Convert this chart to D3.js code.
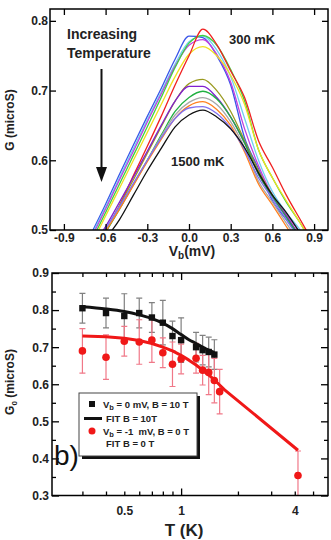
<!DOCTYPE html>
<html>
<head>
<meta charset="utf-8">
<script src="https://cdn.jsdelivr.net/npm/d3@7"></script>
<style>
body { margin: 0; background: #fff; }
text { font-family: "Liberation Sans", Arial, sans-serif; }
</style>
</head>
<body>
<div id="chart-area"></div>
<script>
// ---- top panel: G vs Vb, one curve per temperature ----
var vb = [-0.8, -0.7, -0.6, -0.5, -0.4, -0.3, -0.2, -0.1, 0, 0.1, 0.2, 0.3, 0.4, 0.5, 0.6, 0.7, 0.8, 0.9];
var gBlue    = [0.455, 0.496, 0.537, 0.580, 0.622, 0.663, 0.703, 0.745, 0.778, 0.776, 0.750, 0.708, 0.632, 0.588, 0.542, 0.515, 0.490, 0.460];
var gCyan    = [0.452, 0.493, 0.533, 0.575, 0.617, 0.658, 0.698, 0.738, 0.770, 0.778, 0.758, 0.720, 0.660, 0.600, 0.555, 0.525, 0.500, 0.470];
var gMagenta = [0.450, 0.490, 0.530, 0.572, 0.613, 0.655, 0.695, 0.735, 0.765, 0.773, 0.752, 0.712, 0.645, 0.592, 0.550, 0.522, 0.496, 0.465];
var gGreen   = [0.445, 0.485, 0.525, 0.566, 0.607, 0.648, 0.690, 0.733, 0.768, 0.779, 0.765, 0.730, 0.685, 0.615, 0.575, 0.540, 0.510, 0.475];
var gYellow  = [0.440, 0.480, 0.520, 0.560, 0.600, 0.640, 0.680, 0.720, 0.752, 0.763, 0.750, 0.722, 0.680, 0.615, 0.575, 0.542, 0.510, 0.478];
var gRed     = [0.430, 0.465, 0.497, 0.535, 0.578, 0.620, 0.663, 0.708, 0.750, 0.788, 0.766, 0.728, 0.690, 0.628, 0.590, 0.550, 0.515, 0.480];
var gOlive   = [0.440, 0.470, 0.500, 0.535, 0.572, 0.610, 0.648, 0.685, 0.710, 0.716, 0.700, 0.670, 0.628, 0.585, 0.550, 0.520, 0.490, 0.460];
var gPurple  = [0.445, 0.475, 0.505, 0.540, 0.576, 0.613, 0.650, 0.685, 0.706, 0.706, 0.690, 0.662, 0.625, 0.580, 0.548, 0.520, 0.490, 0.460];
var gGreen2  = [0.440, 0.468, 0.497, 0.530, 0.565, 0.600, 0.636, 0.670, 0.690, 0.699, 0.688, 0.662, 0.625, 0.580, 0.548, 0.518, 0.488, 0.458];
var gGray    = [0.440, 0.470, 0.500, 0.532, 0.566, 0.600, 0.634, 0.665, 0.683, 0.690, 0.680, 0.655, 0.618, 0.570, 0.540, 0.510, 0.480, 0.450];
var gOrange  = [0.438, 0.468, 0.498, 0.530, 0.564, 0.598, 0.630, 0.660, 0.678, 0.684, 0.673, 0.650, 0.612, 0.566, 0.536, 0.505, 0.475, 0.445];
var gViolet  = [0.442, 0.472, 0.502, 0.534, 0.567, 0.600, 0.632, 0.660, 0.675, 0.677, 0.667, 0.646, 0.615, 0.575, 0.545, 0.515, 0.485, 0.455];
var gBlack   = [0.430, 0.460, 0.487, 0.515, 0.550, 0.585, 0.617, 0.648, 0.665, 0.672, 0.662, 0.645, 0.618, 0.582, 0.550, 0.525, 0.495, 0.460];
var vbTicks = [-0.9, -0.6, -0.3, 0, 0.3, 0.6, 0.9];
var gTicks = [0.5, 0.6, 0.7, 0.8];

// ---- bottom panel: G0 vs T ----
var t10 = [0.3, 0.4, 0.5, 0.6, 0.7, 0.8, 0.9, 1.0, 1.2, 1.3, 1.4, 1.5];
var g10 = [0.805, 0.792, 0.784, 0.792, 0.780, 0.766, 0.730, 0.719, 0.700, 0.692, 0.687, 0.680];
var e10 = [0.04, 0.04, 0.06, 0.04, 0.04, 0.06, 0.04, 0.06, 0.04, 0.04, 0.04, 0.04];
var t0 = [0.3, 0.4, 0.5, 0.6, 0.7, 0.8, 0.9, 1.0, 1.2, 1.3, 1.4, 1.5, 1.6, 4.16];
var g0 = [0.690, 0.673, 0.716, 0.714, 0.719, 0.685, 0.654, 0.668, 0.670, 0.638, 0.632, 0.610, 0.580, 0.354];
var e0 = [0.06, 0.06, 0.04, 0.06, 0.06, 0.04, 0.06, 0.04, 0.04, 0.04, 0.06, 0.06, 0.06, 0.066];
var fitT10 = [0.3, 0.4, 0.5, 0.6, 0.7, 0.8, 0.9, 1.0, 1.1, 1.2, 1.3, 1.4, 1.5];
var fitG10 = [0.809, 0.803, 0.796, 0.787, 0.777, 0.765, 0.750, 0.734, 0.720, 0.710, 0.700, 0.692, 0.686];
var fitT0 = [0.3, 0.4, 0.5, 0.6, 0.7, 0.8, 0.9, 1.0, 1.1, 1.2, 1.3, 1.4, 1.5, 1.6, 1.7, 4.16];
var fitG0 = [0.730, 0.728, 0.724, 0.718, 0.710, 0.700, 0.690, 0.678, 0.665, 0.652, 0.638, 0.625, 0.612, 0.598, 0.585, 0.422];
var tLabels = [0.5, 1, 4];
var tMinor = [0.3, 0.4, 0.5, 0.6, 0.7, 0.8, 0.9, 2, 3, 4, 5];
var g0Major = [0.3, 0.4, 0.5, 0.6, 0.7, 0.8, 0.9];
var g0Minor = [0.35, 0.45, 0.55, 0.65, 0.75, 0.85];

var curves = [
    { g: gBlue, color: "#3a55e8" }, { g: gCyan, color: "#6fd0f0" },
    { g: gMagenta, color: "#c040e0" }, { g: gGreen, color: "#40d040" },
    { g: gYellow, color: "#f0e020" }, { g: gRed, color: "#f02020" },
    { g: gOlive, color: "#9a9a20" }, { g: gPurple, color: "#8020d0" },
    { g: gGreen2, color: "#20b040" }, { g: gGray, color: "#a8a8a8" },
    { g: gOrange, color: "#ff8020" }, { g: gViolet, color: "#8070f0" },
    { g: gBlack, color: "#111111" }
];

var svg = d3.select("#chart-area").append("svg")
    .attr("width", 331)
    .attr("height", 540);

function styleAxis(g, size) {
    g.select(".domain").remove();
    g.selectAll("line").attr("stroke", "#000").attr("stroke-width", 1.3);
    g.selectAll("text")
        .attr("font-family", "'Liberation Sans', Arial, sans-serif")
        .attr("font-weight", "bold")
        .attr("font-size", size)
        .attr("fill", "#222");
}

// ================= top panel =================
var x1 = d3.scaleLinear().domain([-1, 1]).range([50, 328]);
var y1 = d3.scaleLinear().domain([0.5, 0.817]).range([230, 9]);

svg.append("clipPath").attr("id", "clip1")
    .append("rect").attr("x", 50).attr("y", 9).attr("width", 278).attr("height", 221);

var line1 = d3.line()
    .x((d, i) => x1(vb[i]))
    .y(d => y1(d))
    .curve(d3.curveMonotoneX);

svg.append("g").attr("clip-path", "url(#clip1)")
    .selectAll("path")
    .data(curves)
    .enter().append("path")
        .attr("d", d => line1(d.g))
        .attr("fill", "none")
        .attr("stroke", d => d.color)
        .attr("stroke-width", 1.3);

svg.append("g").attr("transform", "translate(0,230)")
    .call(d3.axisBottom(x1).tickValues(vbTicks).tickSize(-6).tickPadding(3)
        .tickFormat(d => d.toFixed(1)))
    .call(g => styleAxis(g, "12px"));
svg.append("g").attr("transform", "translate(0,9)")
    .call(d3.axisTop(x1).tickValues(vbTicks).tickSize(-6).tickFormat(""))
    .call(g => styleAxis(g, "12px"));
svg.append("g").attr("transform", "translate(50,0)")
    .call(d3.axisLeft(y1).tickValues(gTicks).tickSize(-6).tickPadding(2)
        .tickFormat(d3.format(".1f")))
    .call(g => styleAxis(g, "12px"));
svg.append("g").attr("transform", "translate(328,0)")
    .call(d3.axisRight(y1).tickValues(gTicks).tickSize(-6).tickFormat(""))
    .call(g => styleAxis(g, "12px"));

svg.append("rect")
    .attr("x", 50).attr("y", 9).attr("width", 278).attr("height", 221)
    .attr("fill", "none").attr("stroke", "#000").attr("stroke-width", 1.5);

svg.append("text")
    .attr("transform", "translate(14," + 120 + ") rotate(-90)")
    .attr("text-anchor", "middle")
    .attr("font-weight", "bold").attr("font-size", "12px").attr("fill", "#222")
    .text("G (microS)");

var xl1 = svg.append("text")
    .attr("x", 192).attr("y", 256)
    .attr("text-anchor", "middle")
    .attr("font-weight", "bold").attr("font-size", "14px").attr("fill", "#222");
xl1.append("tspan").text("V");
xl1.append("tspan").attr("font-size", "10px").attr("dy", 3).text("b");
xl1.append("tspan").attr("dy", -3).text("(mV)");

svg.append("text").attr("x", 67).attr("y", 38.5)
    .attr("font-weight", "bold").attr("font-size", "14px").attr("fill", "#222")
    .text("Increasing");
svg.append("text").attr("x", 67).attr("y", 57.5)
    .attr("font-weight", "bold").attr("font-size", "14px").attr("fill", "#222")
    .text("Temperature");
svg.append("text").attr("x", 229).attr("y", 44)
    .attr("font-weight", "bold").attr("font-size", "13px").attr("fill", "#222")
    .text("300 mK");
svg.append("text").attr("x", 171).attr("y", 166)
    .attr("font-weight", "bold").attr("font-size", "13px").attr("fill", "#222")
    .text("1500 mK");

svg.append("line")
    .attr("x1", 101.5).attr("x2", 101.5).attr("y1", 69).attr("y2", 170)
    .attr("stroke", "#111").attr("stroke-width", 2);
svg.append("path")
    .attr("d", "M96,167 L107,167 L101.5,182 Z")
    .attr("fill", "#111");

// ================= bottom panel =================
var x2 = d3.scaleLog().domain([0.207, 6.0]).range([52, 328]);
var y2 = d3.scaleLinear().domain([0.3, 0.9]).range([495.5, 273]);

svg.append("clipPath").attr("id", "clip2")
    .append("rect").attr("x", 52).attr("y", 273).attr("width", 276).attr("height", 222.5);

svg.append("g").attr("transform", "translate(0,495.5)")
    .call(d3.axisBottom(x2).tickValues(tMinor).tickSize(-4).tickFormat(""))
    .call(g => styleAxis(g, "12px"));
svg.append("g").attr("transform", "translate(0,495.5)")
    .call(d3.axisBottom(x2).tickValues([1]).tickSize(-7).tickFormat(""))
    .call(g => styleAxis(g, "12px"));
svg.append("g").attr("transform", "translate(0,503)")
    .call(d3.axisBottom(x2).tickValues(tLabels).tickSize(0).tickPadding(3)
        .tickFormat(d => String(d)))
    .call(g => styleAxis(g, "12px"));
svg.append("g").attr("transform", "translate(0,273)")
    .call(d3.axisTop(x2).tickValues(tMinor).tickSize(-4).tickFormat(""))
    .call(g => styleAxis(g, "12px"));
svg.append("g").attr("transform", "translate(0,273)")
    .call(d3.axisTop(x2).tickValues([1]).tickSize(-7).tickFormat(""))
    .call(g => styleAxis(g, "12px"));

svg.append("g").attr("transform", "translate(52,0)")
    .call(d3.axisLeft(y2).tickValues(g0Major).tickSize(-7).tickPadding(3)
        .tickFormat(d3.format(".1f")))
    .call(g => styleAxis(g, "12px"));
svg.append("g").attr("transform", "translate(52,0)")
    .call(d3.axisLeft(y2).tickValues(g0Minor).tickSize(-4).tickFormat(""))
    .call(g => styleAxis(g, "12px"));
svg.append("g").attr("transform", "translate(328,0)")
    .call(d3.axisRight(y2).tickValues(g0Major).tickSize(-7).tickFormat(""))
    .call(g => styleAxis(g, "12px"));
svg.append("g").attr("transform", "translate(328,0)")
    .call(d3.axisRight(y2).tickValues(g0Minor).tickSize(-4).tickFormat(""))
    .call(g => styleAxis(g, "12px"));

var plot2 = svg.append("g").attr("clip-path", "url(#clip2)");

function errorBars(ts, gs, es, color, cls) {
    var eb = plot2.selectAll("g." + cls)
        .data(ts)
        .enter().append("g").attr("class", cls)
        .attr("stroke", color).attr("stroke-width", 1.2);
    eb.append("line")
        .attr("x1", d => x2(d)).attr("x2", d => x2(d))
        .attr("y1", (d, i) => y2(gs[i] - es[i]))
        .attr("y2", (d, i) => y2(gs[i] + es[i]));
    eb.append("line")
        .attr("x1", d => x2(d) - 3).attr("x2", d => x2(d) + 3)
        .attr("y1", (d, i) => y2(gs[i] + es[i]))
        .attr("y2", (d, i) => y2(gs[i] + es[i]));
    eb.append("line")
        .attr("x1", d => x2(d) - 3).attr("x2", d => x2(d) + 3)
        .attr("y1", (d, i) => y2(gs[i] - es[i]))
        .attr("y2", (d, i) => y2(gs[i] - es[i]));
}
errorBars(t10, g10, e10, "#808080", "eb10");
errorBars(t0, g0, e0, "#f07888", "eb0");

var fitLine = d3.line().curve(d3.curveMonotoneX);
plot2.append("path")
    .attr("d", fitLine(fitT10.map((t, i) => [x2(t), y2(fitG10[i])])))
    .attr("fill", "none").attr("stroke", "#111").attr("stroke-width", 3);
plot2.append("path")
    .attr("d", d3.line()(fitT0.map((t, i) => [x2(t), y2(fitG0[i])])))
    .attr("fill", "none").attr("stroke", "#f01818").attr("stroke-width", 3)
    .attr("stroke-linejoin", "round");

plot2.selectAll("rect.sq")
    .data(t10)
    .enter().append("rect").attr("class", "sq")
        .attr("x", d => x2(d) - 3.2)
        .attr("y", (d, i) => y2(g10[i]) - 3.2)
        .attr("width", 6.4).attr("height", 6.4)
        .attr("fill", "#111");
plot2.selectAll("circle.dot")
    .data(t0)
    .enter().append("circle").attr("class", "dot")
        .attr("cx", d => x2(d))
        .attr("cy", (d, i) => y2(g0[i]))
        .attr("r", 3.8)
        .attr("fill", "#f01818");

svg.append("rect")
    .attr("x", 52).attr("y", 273).attr("width", 276).attr("height", 222.5)
    .attr("fill", "none").attr("stroke", "#000").attr("stroke-width", 1.5);

// legend
svg.append("rect").attr("x", 82).attr("y", 396).attr("width", 118).attr("height", 63)
    .attr("fill", "#111");
svg.append("rect").attr("x", 79).attr("y", 393).attr("width", 118).attr("height", 63)
    .attr("fill", "#fff").attr("stroke", "#444").attr("stroke-width", 1);

svg.append("rect").attr("x", 89).attr("y", 401).attr("width", 6).attr("height", 6).attr("fill", "#111");
svg.append("line").attr("x1", 84).attr("x2", 102).attr("y1", 418.5).attr("y2", 418.5)
    .attr("stroke", "#111").attr("stroke-width", 3);
svg.append("circle").attr("cx", 92).attr("cy", 431).attr("r", 3.5).attr("fill", "#f01818");

function legendText(x, y, sub, rest) {
    var t = svg.append("text").attr("x", x).attr("y", y)
        .attr("font-weight", "bold").attr("font-size", "9.5px").attr("fill", "#222")
        .style("white-space", "pre");
    if (sub) {
        t.append("tspan").text("V");
        t.append("tspan").attr("font-size", "7.5px").attr("dy", 2.5).text("b");
        t.append("tspan").attr("dy", -2.5).text(rest);
    } else {
        t.text(rest);
    }
}
legendText(103, 407.5, true, " = 0 mV, B = 10 T");
legendText(106, 422, false, "FIT B = 10T");
legendText(103, 434.5, true, " = -1  mV, B = 0 T");
legendText(106, 447, false, "FIT B = 0 T");

svg.append("text").attr("x", 54).attr("y", 465)
    .attr("font-size", "28px").attr("fill", "#111")
    .text("b)");

var yl2 = svg.append("text")
    .attr("transform", "translate(14,382) rotate(-90)")
    .attr("text-anchor", "middle")
    .attr("font-weight", "bold").attr("font-size", "12px").attr("fill", "#222");
yl2.append("tspan").text("G");
yl2.append("tspan").attr("font-size", "8px").attr("dy", 3).text("0");
yl2.append("tspan").attr("dy", -3).text(" (microS)");

svg.append("text").attr("x", 184).attr("y", 536)
    .attr("text-anchor", "middle")
    .attr("font-weight", "bold").attr("font-size", "17px").attr("fill", "#222")
    .text("T (K)");
</script>
</body>
</html>
